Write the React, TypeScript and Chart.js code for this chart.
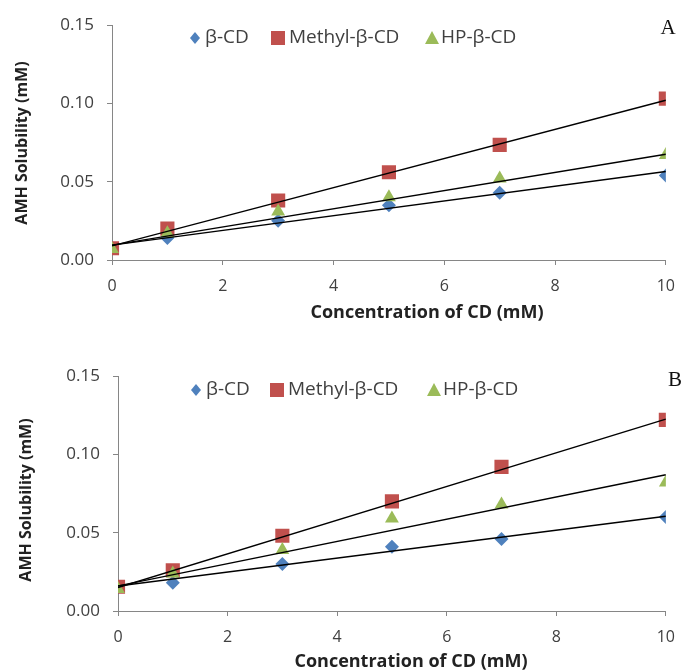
import React, { useEffect, useRef } from "react";
import { Chart, registerables } from "chart.js";

Chart.register(...registerables);

// ---------- data ----------
const concentrations = [0, 1, 3, 5, 7, 10];
const trendX = [0, 10];
const seriesNames = ["β-CD", "Methyl-β-CD", "HP-β-CD"];
const xTickValues = [0, 2, 4, 6, 8, 10];
const yTickValues = [0, 0.05, 0.1, 0.15];

// Panel A
const betaA = [0.008, 0.014, 0.025, 0.035, 0.043, 0.054];
const methylA = [0.0075, 0.02, 0.038, 0.056, 0.0735, 0.103];
const hpA = [0.007, 0.017, 0.031, 0.04, 0.052, 0.067];
const betaTrendA = [0.0095, 0.0565];
const methylTrendA = [0.009, 0.102];
const hpTrendA = [0.0095, 0.0675];

// Panel B
const betaB = [0.015, 0.018, 0.03, 0.041, 0.046, 0.06];
const methylB = [0.0155, 0.026, 0.048, 0.07, 0.092, 0.122];
const hpB = [0.014, 0.024, 0.039, 0.059, 0.068, 0.082];
const betaTrendB = [0.016, 0.0605];
const methylTrendB = [0.015, 0.1225];
const hpTrendB = [0.016, 0.087];

const X_TITLE = "Concentration of CD (mM)";
const Y_TITLE = "AMH Solubility (mM)";

// ---------- styles ----------
const BLUE = "#4F81BD";
const RED = "#C0504D";
const GREEN = "#9BBB59";
const AXIS = "#868686";
const TEXT = "#404040";
const FONT = "'Open Sans', 'DejaVu Sans', sans-serif";

function drawMarker(ctx: CanvasRenderingContext2D, kind: number, x: number, y: number) {
  ctx.beginPath();
  if (kind === 0) {
    ctx.fillStyle = BLUE;
    ctx.moveTo(x, y - 6);
    ctx.lineTo(x + 5, y);
    ctx.lineTo(x, y + 6);
    ctx.lineTo(x - 5, y);
  } else if (kind === 1) {
    ctx.fillStyle = RED;
    ctx.rect(x - 7, y - 7, 14, 14);
  } else {
    ctx.fillStyle = GREEN;
    ctx.moveTo(x, y - 7);
    ctx.lineTo(x + 7, y + 6);
    ctx.lineTo(x - 7, y + 6);
  }
  ctx.closePath();
  ctx.fill();
}

const overlayPlugin = {
  id: "overlay",
  afterDraw(chart: any, _args: any, opts: any) {
    const ctx: CanvasRenderingContext2D = chart.ctx;
    ctx.save();
    // legend
    ctx.textBaseline = "middle";
    ctx.textAlign = "left";
    ctx.font = `19px ${FONT}`;
    opts.legendItems.forEach((it: any, i: number) => {
      drawMarker(ctx, i, it.mx, opts.legendY);
      ctx.fillStyle = TEXT;
      ctx.fillText(seriesNames[i], it.tx, opts.legendY);
    });
    // panel letter
    ctx.font = `21px 'Liberation Serif', 'DejaVu Serif', serif`;
    ctx.fillStyle = "#111";
    ctx.textAlign = "center";
    ctx.fillText(opts.letter, opts.letterX, opts.letterY);
    // x title
    ctx.font = `bold 18px ${FONT}`;
    ctx.fillStyle = "#222";
    ctx.fillText(X_TITLE, opts.xTitleX, opts.xTitleY);
    // y title
    ctx.font = `bold 16px ${FONT}`;
    ctx.translate(opts.yTitleX, opts.yTitleY);
    ctx.rotate(-Math.PI / 2);
    ctx.fillText(Y_TITLE, 0, 0);
    ctx.restore();
  },
};

type PanelProps = {
  top: number;
  height: number;
  beta: number[];
  methyl: number[];
  hp: number[];
  betaTrend: number[];
  methylTrend: number[];
  hpTrend: number[];
  layout: any;
  overlay: any;
};

function Panel(p: PanelProps) {
  const ref = useRef<HTMLCanvasElement | null>(null);
  useEffect(() => {
    const canvas = ref.current;
    if (!canvas) return;
    const pts = (ys: number[]) => concentrations.map((x, i) => ({ x, y: ys[i] }));
    const tr = (ys: number[]) => trendX.map((x, i) => ({ x, y: ys[i] }));
    const trendStyle = {
      showLine: true,
      borderColor: "#000",
      borderWidth: 1.4,
      pointRadius: 0,
      pointHoverRadius: 0,
      fill: false,
    };
    const chart = new Chart(canvas, {
      type: "scatter",
      data: {
        datasets: [
          { label: "tβ", data: tr(p.betaTrend), ...trendStyle, order: 0 },
          { label: "tM", data: tr(p.methylTrend), ...trendStyle, order: 0 },
          { label: "tH", data: tr(p.hpTrend), ...trendStyle, order: 0 },
          {
            label: seriesNames[0],
            data: pts(p.beta),
            pointStyle: "rectRot",
            pointRadius: 7,
            backgroundColor: BLUE,
            borderColor: BLUE,
            borderWidth: 0,
            order: 3,
          },
          {
            label: seriesNames[1],
            data: pts(p.methyl),
            pointStyle: "rect",
            pointRadius: 10,
            backgroundColor: RED,
            borderColor: RED,
            borderWidth: 0,
            order: 2,
          },
          {
            label: seriesNames[2],
            data: pts(p.hp),
            pointStyle: "triangle",
            pointRadius: 8,
            backgroundColor: GREEN,
            borderColor: GREEN,
            borderWidth: 0,
            order: 1,
          },
        ],
      },
      options: {
        responsive: false,
        animation: false,
        devicePixelRatio: 1,
        layout: { padding: p.layout.padding },
        plugins: {
          legend: { display: false },
          tooltip: { enabled: false },
          overlay: p.overlay,
        } as any,
        scales: {
          x: {
            type: "linear",
            min: 0,
            max: 10,
            afterBuildTicks: (s: any) => {
              s.ticks = xTickValues.map((v) => ({ value: v }));
            },
            afterFit: (s: any) => {
              s.height = p.layout.xHeight;
            },
            ticks: {
              color: TEXT,
              font: { family: FONT, size: 16 },
              padding: 12,
              callback: (v: any) => String(v),
            },
            grid: {
              drawOnChartArea: false,
              drawTicks: true,
              tickLength: 5,
              color: AXIS,
            },
            border: { display: true, color: AXIS, width: 1 },
          },
          y: {
            type: "linear",
            min: 0,
            max: 0.15,
            afterBuildTicks: (s: any) => {
              s.ticks = yTickValues.map((v) => ({ value: v }));
            },
            afterFit: (s: any) => {
              s.width = p.layout.yWidth;
            },
            ticks: {
              color: TEXT,
              font: { family: FONT, size: 17 },
              padding: 13,
              callback: (v: any) => Number(v).toFixed(2),
            },
            grid: {
              drawOnChartArea: false,
              drawTicks: true,
              tickLength: 5,
              color: AXIS,
            },
            border: { display: true, color: AXIS, width: 1 },
          },
        },
      },
      plugins: [overlayPlugin],
    } as any);
    return () => chart.destroy();
  }, []);
  return (
    <canvas
      ref={ref}
      width={687}
      height={p.height}
      style={{ position: "absolute", left: 0, top: p.top, width: 687, height: p.height }}
    />
  );
}

export default function App() {
  return (
    <div
      style={{
        position: "absolute",
        left: 0,
        top: 0,
        width: 687,
        height: 671,
        background: "#fff",
        overflow: "hidden",
      }}
    >
      <Panel
        top={0}
        height={340}
        beta={betaA}
        methyl={methylA}
        hp={hpA}
        betaTrend={betaTrendA}
        methylTrend={methylTrendA}
        hpTrend={hpTrendA}
        layout={{ padding: { left: 0, right: 15, top: 25, bottom: 0 }, yWidth: 112, xHeight: 80 }}
        overlay={{
          legendY: 38,
          legendItems: [
            { mx: 195, tx: 205 },
            { mx: 278, tx: 289 },
            { mx: 432, tx: 441 },
          ],
          letter: "A",
          letterX: 668,
          letterY: 28,
          xTitleX: 427,
          xTitleY: 313,
          yTitleX: 22,
          yTitleY: 143,
        }}
      />
      <Panel
        top={340}
        height={331}
        beta={betaB}
        methyl={methylB}
        hp={hpB}
        betaTrend={betaTrendB}
        methylTrend={methylTrendB}
        hpTrend={hpTrendB}
        layout={{ padding: { left: 0, right: 13, top: 36, bottom: 0 }, yWidth: 118, xHeight: 60 }}
        overlay={{
          legendY: 50,
          legendItems: [
            { mx: 196, tx: 206 },
            { mx: 277, tx: 288 },
            { mx: 434, tx: 443 },
          ],
          letter: "B",
          letterX: 675,
          letterY: 40,
          xTitleX: 411,
          xTitleY: 322,
          yTitleX: 26,
          yTitleY: 160,
        }}
      />
    </div>
  );
}
